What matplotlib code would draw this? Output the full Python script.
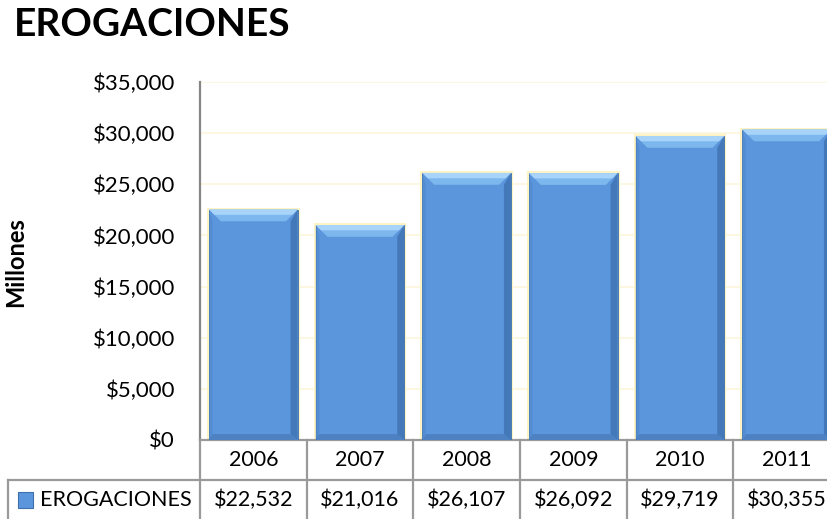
import numpy as np
import matplotlib.pyplot as plt
from matplotlib.patches import Polygon, Rectangle
from matplotlib.transforms import blended_transform_factory
from matplotlib.ticker import FuncFormatter

plt.rcParams['font.family'] = ['Lato', 'DejaVu Sans']

# Data
years = ['2006', '2007', '2008', '2009', '2010', '2011']
erogaciones = [22532, 21016, 26107, 26092, 29719, 30355]
series_name = 'EROGACIONES'

face = '#5b96dc'
top_light = '#7cb7ee'
top_lighter = '#a8d4fa'
right_dark = '#3c6fae'
left_dark = '#4d86cb'
bottom_dark = '#4879b8'
grid_col = '#fbf6dc'
line_col = '#9a9a9a'

fig = plt.figure(figsize=(8.28, 5.19), dpi=100)
W, H = 828, 519
ax = fig.add_axes([200 / W, 1 - 440 / H, 640 / W, 358 / H])

x = np.arange(len(years))
bar_w = 0.83
ax.set_xlim(-0.5, len(years) - 0.5)
ax.set_ylim(0, 35000)

# glow + main bars
ax.bar(x, erogaciones, width=bar_w, color='none', edgecolor='#fdf3c4', linewidth=3, zorder=2)
bars = ax.bar(x, erogaciones, width=bar_w, color=face, edgecolor='#3f70ad', linewidth=0.6, zorder=3)

# bevel decoration
bx, by = 0.11, 1150
for b in bars:
    x0, x1 = b.get_x(), b.get_x() + b.get_width()
    h = b.get_height()
    # right side
    ax.add_patch(Polygon([(x1, h), (x1, 0), (x1 - bx * 0.6, by * 0.5), (x1 - bx * 0.6, h - by)],
                         closed=True, facecolor=right_dark, edgecolor='none', alpha=0.75, zorder=4))
    # left side
    ax.add_patch(Polygon([(x0, h), (x0, 0), (x0 + bx * 0.3, by * 0.5), (x0 + bx * 0.3, h - by)],
                         closed=True, facecolor=left_dark, edgecolor='none', alpha=0.6, zorder=4))
    # bottom
    ax.add_patch(Polygon([(x0, 0), (x1, 0), (x1 - bx * 0.6, by * 0.5), (x0 + bx * 0.3, by * 0.5)],
                         closed=True, facecolor=bottom_dark, edgecolor='none', alpha=0.7, zorder=4))
    # top
    ax.add_patch(Polygon([(x0, h), (x1, h), (x1 - bx, h - by), (x0 + bx, h - by)],
                         closed=True, facecolor=top_light, edgecolor='none', zorder=5))
    ax.add_patch(Polygon([(x0, h), (x1, h), (x1 - bx * 0.45, h - by * 0.45), (x0 + bx * 0.45, h - by * 0.45)],
                         closed=True, facecolor=top_lighter, edgecolor='none', zorder=5))

# axes styling
ax.yaxis.set_major_locator(plt.MultipleLocator(5000))
ax.yaxis.set_major_formatter(FuncFormatter(lambda v, p: '${:,.0f}'.format(v)))
ax.grid(axis='y', color=grid_col, linewidth=1.2, zorder=0)
ax.set_axisbelow(True)
for s in ['top', 'right']:
    ax.spines[s].set_visible(False)
ax.spines['left'].set_color('#868686')
ax.spines['left'].set_linewidth(1.6)
ax.spines['bottom'].set_color(line_col)
ax.spines['bottom'].set_linewidth(1.6)
ax.tick_params(axis='y', length=0, pad=18, labelsize=16)
ax.tick_params(axis='x', length=0, labelbottom=False)

# data table under the plot
tr = blended_transform_factory(ax.transData, ax.transAxes)
row1_y, row2_y, sep_y, bot_y = -0.0559, -0.1676, -0.1117, -0.30
left_x = -0.5 - 192 / (640 / len(years))
for xb in np.arange(-0.5, len(years) + 0.5, 1.0):
    ax.plot([xb, xb], [0, bot_y], color=line_col, lw=1.6, transform=tr, clip_on=False)
ax.plot([left_x, len(years) - 0.5], [sep_y, sep_y], color=line_col, lw=1.6, transform=tr, clip_on=False)
ax.plot([left_x, left_x], [sep_y, bot_y], color=line_col, lw=1.6, transform=tr, clip_on=False)

for xi, yr, v in zip(x, years, erogaciones):
    ax.text(xi, row1_y, yr, transform=tr, ha='center', va='center', fontsize=15.5)
    ax.text(xi, row2_y, '${:,}'.format(v), transform=tr, ha='center', va='center', fontsize=15.5)

# legend key in table
ax.add_patch(Rectangle((left_x + 0.095, row2_y - 0.021), 0.14, 0.042, transform=tr,
                       facecolor=face, edgecolor='#3f70ad', linewidth=0.8, clip_on=False))
ax.text(left_x + 0.3, row2_y, series_name, transform=tr, ha='left', va='center', fontsize=15.5)

fig.text(14 / W, 1 - 25 / H, 'EROGACIONES', fontsize=28, fontweight='bold', ha='left', va='center')
fig.text(16 / W, 1 - 262 / H, 'Millones', fontsize=17, fontweight='bold', rotation=90,
         ha='center', va='center')

fig.savefig('out.png', dpi=100)
